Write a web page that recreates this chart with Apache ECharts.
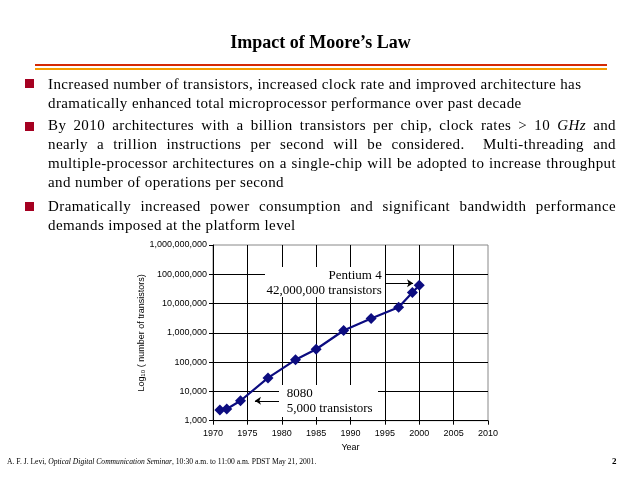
<!DOCTYPE html>
<html>
<head>
<meta charset="utf-8">
<title>Impact of Moore's Law</title>
<script src="https://cdn.jsdelivr.net/npm/echarts@6/dist/echarts.min.js"></script>
<style>
  html, body { margin: 0; padding: 0; background: #fff; }
  #page { position: relative; width: 640px; height: 480px; overflow: hidden; font-family: "Liberation Serif", "Times New Roman", serif; color: #000; }
  #chart { position: absolute; left: 0; top: 0; width: 640px; height: 480px; }
  .txt { position: absolute; z-index: 2; white-space: nowrap; }
  .title { left: 0; width: 641px; top: 31.6px; text-align: center; font-weight: bold; font-size: 18px; line-height: 20px; }
  .rule { position: absolute; left: 35px; width: 572px; height: 2px; z-index: 2; }
  .bullet { position: absolute; left: 25px; width: 9px; height: 9px; background: #a50021; z-index: 2; }
  .para { position: absolute; left: 48px; width: 568px; font-size: 15px; line-height: 19px; letter-spacing: 0.4px; z-index: 2; }
  .para div { white-space: nowrap; }
  .para div.j { text-align: justify; text-align-last: justify; white-space: normal; }
  .foot { left: 7px; top: 457px; font-size: 7.6px; line-height: 10px; }
  .pg { left: 612px; top: 456px; font-size: 9px; line-height: 10px; font-weight: bold; }
</style>
</head>
<body>
<div id="page">
  <div id="chart"></div>
  <div class="txt title">Impact of Moore’s Law</div>
  <div class="rule" style="top:64px;background:#d42a05;"></div>
  <div class="rule" style="top:68px;background:#f59c00;"></div>

  <div class="bullet" style="top:79px;"></div>
  <div class="para" style="top:74.5px;">
    <div>Increased number of transistors, increased clock rate and improved architecture has</div>
    <div>dramatically enhanced total microprocessor performance over past decade</div>
  </div>

  <div class="bullet" style="top:122px;"></div>
  <div class="para" style="top:116.2px;">
    <div class="j">By 2010 architectures with a billion transistors per chip, clock rates &gt; 10 <i>GHz</i> and</div>
    <div class="j">nearly a trillion instructions per second will be considered.&nbsp; Multi-threading and</div>
    <div class="j">multiple-processor architectures on a single-chip will be adopted to increase throughput</div>
    <div>and number of operations per second</div>
  </div>

  <div class="bullet" style="top:202px;"></div>
  <div class="para" style="top:197.2px;">
    <div class="j">Dramatically increased power consumption and significant bandwidth performance</div>
    <div>demands imposed at the platform level</div>
  </div>

  <div class="txt foot">A. F. J. Levi, <i>Optical Digital Communication Seminar</i>, 10:30 a.m. to 11:00 a.m. PDST May 21, 2001.</div>
  <div class="txt pg">2</div>
</div>
<script>
// Intel microprocessors: year of introduction and transistor count
var years = [1971, 1972, 1974, 1978, 1982, 1985, 1989, 1993, 1997, 1999, 2000];
var transistors = [2300, 2500, 4800, 29000, 120000, 275000, 1200000, 3100000, 7500000, 24000000, 42000000];

// axis ranges
var yearMin = 1970, yearMax = 2010, yearStep = 5;
var countMin = 1000, countMax = 1000000000;

// call-outs: text lines and arrow ends in data units
var p4Text = ['Pentium 4', '42,000,000 transistors'];
var p4Arrow = [[1994.7, 49000000], [1999.1, 49000000]];
var i8080Text = ['8080', '5,000 transistors'];
var i8080Arrow = [[1980.0, 4800], [1976.1, 4800]];

var chart = echarts.init(document.getElementById('chart'));

var points = years.map(function (y, i) { return [y, transistors[i]]; });

var labelFont = { fontFamily: 'Liberation Sans, Arial, sans-serif', fontSize: 9, color: '#000' };
var noteFont = '13px "Liberation Serif", "Times New Roman", serif';

var option = {
    animation: false,
    grid: {
        left: 213, top: 245, right: 152, bottom: 59.3, containLabel: false,
        show: true, borderColor: '#888', borderWidth: 1, backgroundColor: 'transparent'
    },
    xAxis: {
        type: 'value',
        min: yearMin, max: yearMax, interval: yearStep,
        name: 'Year', nameLocation: 'middle', nameGap: 22,
        nameTextStyle: labelFont,
        axisLine: { show: true, lineStyle: { color: '#000', width: 1 } },
        axisTick: { show: true, inside: false, length: 4, lineStyle: { color: '#000' } },
        axisLabel: Object.assign({ margin: 8, formatter: function (v) { return String(v); } }, labelFont),
        splitLine: { show: true, showMinLine: false, showMaxLine: false, lineStyle: { color: '#000', width: 1 } }
    },
    yAxis: {
        type: 'log', logBase: 10,
        min: countMin, max: countMax, splitNumber: 6,
        name: 'Log₁₀ ( number of transistors)', nameLocation: 'middle', nameGap: 66, nameRotate: 90,
        nameTextStyle: labelFont,
        axisLine: { show: true, lineStyle: { color: '#000', width: 1 } },
        axisTick: { show: true, inside: false, length: 4, lineStyle: { color: '#000' } },
        axisLabel: Object.assign({ margin: 6, formatter: function (v) { return Number(v).toLocaleString('en-US'); } }, labelFont),
        splitLine: { show: true, showMinLine: false, showMaxLine: false, lineStyle: { color: '#000', width: 1 } }
    },
    series: [{
        type: 'line',
        data: points,
        symbol: 'diamond',
        symbolSize: 11,
        lineStyle: { color: '#0c0c80', width: 2.2 },
        itemStyle: { color: '#0c0c80' },
        z: 3,
        markLine: {
            silent: true,
            symbol: ['none', 'arrow'],
            symbolSize: [6, 6],
            label: { show: false },
            lineStyle: { color: '#000', width: 1, type: 'solid' },
            data: [
                [{ coord: p4Arrow[0] }, { coord: p4Arrow[1] }],
                [{ coord: i8080Arrow[0] }, { coord: i8080Arrow[1] }]
            ]
        }
    }],
    graphic: [
        { type: 'rect', z: 50, shape: { x: 265, y: 267, width: 120, height: 30 }, style: { fill: '#fff' } },
        { type: 'text', z: 51, x: 381.7, y: 275.7, style: { text: p4Text[0], align: 'right', verticalAlign: 'middle', font: noteFont, fill: '#000' } },
        { type: 'text', z: 51, x: 381.7, y: 290.7, style: { text: p4Text[1], align: 'right', verticalAlign: 'middle', font: noteFont, fill: '#000' } },
        { type: 'rect', z: 50, shape: { x: 279, y: 385, width: 99, height: 32 }, style: { fill: '#fff' } },
        { type: 'text', z: 51, x: 286.7, y: 393.3, style: { text: i8080Text[0], align: 'left', verticalAlign: 'middle', font: noteFont, fill: '#000' } },
        { type: 'text', z: 51, x: 286.7, y: 409, style: { text: i8080Text[1], align: 'left', verticalAlign: 'middle', font: noteFont, fill: '#000' } }
    ]
};

chart.setOption(option);
</script>
</body>
</html>
